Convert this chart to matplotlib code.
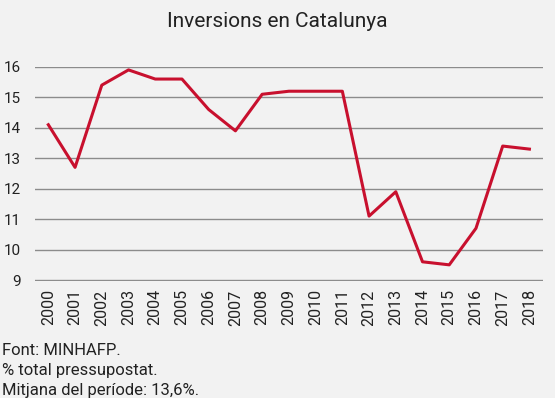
import matplotlib
matplotlib.use("Agg")
import matplotlib.pyplot as plt

years = [str(y) for y in range(2000, 2019)]
values = [14.1, 12.7, 15.4, 15.9, 15.6, 15.6, 14.6, 13.9, 15.1, 15.2,
          15.2, 15.2, 11.1, 11.9, 9.6, 9.5, 10.7, 13.4, 13.3]
yticks = [9, 10, 11, 12, 13, 14, 15, 16]
title = "Inversions en Catalunya"
notes = ["Font: MINHAFP.", "% total pressupostat.", "Mitjana del període: 13,6%."]

bg = "#f2f2f2"
plt.rcParams['font.family'] = ['Roboto', 'DejaVu Sans']

fig = plt.figure(figsize=(5.55, 3.98), dpi=100, facecolor=bg)
ax = fig.add_axes([0.063, 0.294, 0.915, 0.538], facecolor=bg)

x = list(range(len(years)))
ax.plot(x, values, color="#c8102e", linewidth=2.2, zorder=3)

ax.set_xlim(-0.5, len(years) - 0.5)
ax.set_ylim(8.97, 16.0)
ax.set_yticks(yticks)
ax.set_yticklabels([str(t) for t in yticks], fontsize=11, color="#222222")
ax.set_xticks(x)
ax.set_xticklabels(years, rotation=90, fontsize=11.5, color="#222222")
ax.tick_params(length=0, pad=6)
ax.tick_params(axis='y', pad=10)
ax.grid(axis='y', color="#8c8c8c", linewidth=1)
ax.set_axisbelow(True)
for s in ax.spines.values():
    s.set_visible(False)

fig.text(0.5, 0.945, title, ha='center', va='center', fontsize=15, color="#222222")
for i, n in enumerate(notes):
    fig.text(0.004, 0.12 - i * 0.05, n, ha='left', va='center', fontsize=12, color="#222222")

fig.savefig("out.png", dpi=100, facecolor=bg)
